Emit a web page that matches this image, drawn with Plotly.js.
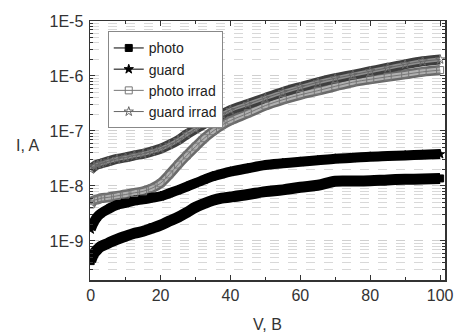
<!DOCTYPE html>
<html><head><meta charset="utf-8">
<script src="https://cdn.plot.ly/plotly-3.0.1.min.js"></script>
<style>html,body{margin:0;padding:0;background:#fff}#c{width:454px;height:335px}</style>
</head><body><div id="c"></div>
<script>
const voltage = [0,1,2,3,5,7.5,10,12.5,15,17.5,20,22.5,25,27.5,30,32.5,35,37.5,40,45,50,55,60,65,70,75,80,85,90,95,100];
const photo = [4.3e-10,6.0e-10,7.1e-10,8.0e-10,9.1e-10,1.07e-9,1.22e-9,1.38e-9,1.5e-9,1.7e-9,1.94e-9,2.3e-9,2.7e-9,3.3e-9,4.1e-9,4.8e-9,5.5e-9,6.0e-9,6.3e-9,7.0e-9,7.9e-9,8.5e-9,9.5e-9,1.03e-8,1.22e-8,1.23e-8,1.25e-8,1.29e-8,1.32e-8,1.34e-8,1.37e-8];
const guard = [1.62e-9,2.26e-9,2.8e-9,3.2e-9,3.8e-9,4.5e-9,4.9e-9,5.4e-9,5.7e-9,6.1e-9,6.5e-9,7.4e-9,8.4e-9,9.7e-9,1.13e-8,1.3e-8,1.5e-8,1.66e-8,1.82e-8,2.1e-8,2.4e-8,2.58e-8,2.75e-8,2.93e-8,3.13e-8,3.25e-8,3.4e-8,3.5e-8,3.6e-8,3.7e-8,3.8e-8];
const photoIrrad = [4.6e-9,5.5e-9,5.7e-9,6.0e-9,6.2e-9,6.6e-9,7.0e-9,7.5e-9,8.0e-9,9.1e-9,1.12e-8,1.62e-8,2.45e-8,3.6e-8,5.2e-8,7.4e-8,9.9e-8,1.27e-7,1.55e-7,2.1e-7,2.9e-7,3.7e-7,4.55e-7,5.4e-7,6.5e-7,7.7e-7,8.7e-7,9.7e-7,1.07e-6,1.19e-6,1.28e-6];
const guardIrrad = [2.0e-8,2.28e-8,2.46e-8,2.56e-8,2.8e-8,3.1e-8,3.3e-8,3.6e-8,3.85e-8,4.25e-8,4.75e-8,5.6e-8,6.8e-8,8.7e-8,1.09e-7,1.35e-7,1.65e-7,2.0e-7,2.4e-7,3.1e-7,4.0e-7,5.1e-7,6.3e-7,7.7e-7,9.1e-7,1.05e-6,1.22e-6,1.41e-6,1.63e-6,1.85e-6,2.0e-6];
const seriesNames = ['photo','guard','photo irrad','guard irrad'];
const xTickVals = [0,20,40,60,80,100];
const yTickVals = [1e-9,1e-8,1e-7,1e-6,1e-5];
const yTickText = ['1E-9','1E-8','1E-7','1E-6','1E-5'];

const font = 'Arial, "Liberation Sans", sans-serif';
function band(y, color, w){
  return {x: voltage, y: y, mode:'lines', line:{color:color, width:w, shape:'spline'}, showlegend:false, hoverinfo:'skip'};
}
function mk(y, name, sym, color){
  return {x: voltage, y: y, name: name, mode:'lines+markers',
    line:{color:color, width:1, shape:'spline'},
    marker:{symbol:sym, size:7, color:color, line:{color:color, width:1}}};
}
const traces = [
  band(photoIrrad,'#6a6a6a',10), band(photoIrrad,'#b0b0b0',5),
  band(guardIrrad,'#3e3e3e',10), band(guardIrrad,'#8e8e8e',4),
  band(photo,'#000',11), band(guard,'#000',10),
  mk(photo, seriesNames[0], 'square', '#000'),
  mk(guard, seriesNames[1], 'star', '#000'),
  mk(photoIrrad, seriesNames[2], 'square-open', '#777'),
  mk(guardIrrad, seriesNames[3], 'star-open', '#666')
];
const layout = {
  width:454, height:335,
  margin:{l:90, r:9, t:21, b:55},
  paper_bgcolor:'#fff', plot_bgcolor:'#fff',
  font:{family:font, size:16, color:'#333'},
  showlegend:true,
  legend:{x:0.05, y:0.96, xanchor:'left', yanchor:'top', bgcolor:'#fff', bordercolor:'#888', borderwidth:1,
    font:{family:font, size:14, color:'#222'}, tracegroupgap:0, itemwidth:30},
  xaxis:{range:[-0.2,101.4], tickvals:xTickVals, ticks:'inside', ticklen:5, tickcolor:'#333',
    showline:true, linecolor:'#333', linewidth:1.5, mirror:'ticks', showgrid:false, zeroline:false,
    minor:{tickvals:[10,30,50,70,90], ticks:'inside', ticklen:3, tickcolor:'#333'},
    tickfont:{size:16, color:'#333'}, ticklabelstandoff:0,
    title:{text:'V, B', font:{size:16, color:'#333'}, standoff:16}},
  yaxis:{type:'log', range:[-9.71,-5], tickvals:yTickVals, ticktext:yTickText, ticks:'inside', ticklen:5, tickcolor:'#333',
    showline:true, linecolor:'#333', linewidth:1.5, mirror:'ticks', zeroline:false,
    showgrid:true, gridcolor:'#cfcfcf', griddash:'dash', gridwidth:1,
    minor:{dtick:'D1', ticks:'inside', ticklen:3, tickcolor:'#333', showgrid:true, gridcolor:'#d8d8d8', griddash:'dash', gridwidth:1},
    tickfont:{size:16, color:'#333'}, ticklabelstandoff:2},
  annotations:[{text:'I, A', xref:'paper', yref:'paper', x:-0.175, y:0.52, xanchor:'center', yanchor:'middle', showarrow:false, font:{family:font, size:16, color:'#333'}}]
};
Plotly.newPlot('c', traces, layout, {staticPlot:true, displayModeBar:false});
</script></body></html>
